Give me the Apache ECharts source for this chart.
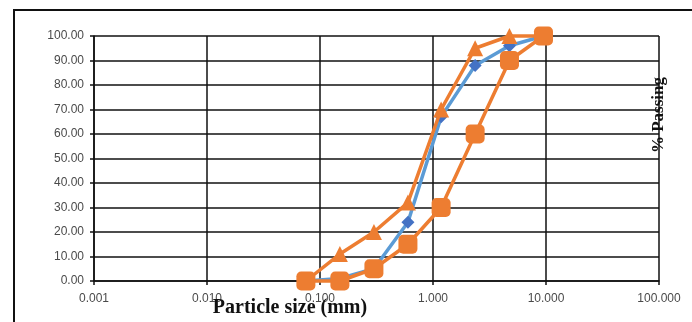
<!DOCTYPE html>
<html>
<head>
<meta charset="utf-8">
<script src="https://cdn.jsdelivr.net/npm/echarts@6/dist/echarts.min.js"></script>
<style>
  html, body { margin: 0; padding: 0; background: #fff; }
  #chart { width: 692px; height: 322px; }
</style>
</head>
<body>
<div id="chart"></div>
<script>
// Sieve sizes (mm) and percent passing for each gradation curve
const sieveSizes = [0.075, 0.15, 0.3, 0.6, 1.18, 2.36, 4.75, 9.5];
const sampleGrading = [0, 1, 5, 24, 67, 88, 96, 100];
const upperLimit = [0, 11, 20, 32, 70, 95, 100, 100];
const lowerLimit = [0, 0, 5, 15, 30, 60, 90, 100];
const xTickFormat = 3;
const yTickFormat = 2;

const pairs = (vals) => sieveSizes.map((s, i) => [s, vals[i]]);

const chart = echarts.init(document.getElementById('chart'));
const gridColor = '#111';
const labelColor = '#4a4a4a';

chart.setOption({
  animation: false,
  backgroundColor: '#fff',
  grid: { left: 94, right: 33, top: 36, bottom: 41 },
  xAxis: {
    type: 'log',
    logBase: 10,
    min: 0.001,
    max: 100,
    axisLine: { show: true, onZero: false, lineStyle: { color: gridColor, width: 1.5 } },
    axisTick: { show: true, inside: false, length: 4, lineStyle: { color: gridColor, width: 1.5 } },
    minorTick: { show: false },
    axisLabel: {
      color: labelColor, fontFamily: 'Liberation Sans, Arial', fontSize: 12, margin: 12,
      formatter: (v) => Number(v).toFixed(xTickFormat)
    },
    splitLine: { show: true, lineStyle: { color: gridColor, width: 1.5 } }
  },
  yAxis: {
    type: 'value',
    min: 0, max: 100, interval: 10,
    axisLine: { show: true, lineStyle: { color: gridColor, width: 1.5 } },
    axisTick: { show: true, length: 4, lineStyle: { color: gridColor, width: 1.5 } },
    axisLabel: {
      color: labelColor, fontFamily: 'Liberation Sans, Arial', fontSize: 12, margin: 10,
      formatter: (v) => Number(v).toFixed(yTickFormat)
    },
    splitLine: { show: true, lineStyle: { color: gridColor, width: 1.5 } }
  },
  series: [
    {
      type: 'line', data: pairs(sampleGrading), clip: false,
      symbol: 'diamond', symbolSize: 13,
      lineStyle: { color: '#5B9BD5', width: 3.5 },
      itemStyle: { color: '#4472C4' },
      z: 2
    },
    {
      type: 'line', data: pairs(upperLimit), clip: false,
      symbol: 'triangle', symbolSize: 16,
      lineStyle: { color: '#ED7D31', width: 3.5 },
      itemStyle: { color: '#ED7D31' },
      z: 3
    },
    {
      type: 'line', data: pairs(lowerLimit), clip: false,
      symbol: 'roundRect', symbolSize: 19,
      lineStyle: { color: '#ED7D31', width: 3.5 },
      itemStyle: { color: '#ED7D31' },
      z: 4
    }
  ],
  graphic: [
    {
      type: 'rect', z: 0,
      shape: { x: 14, y: 10, width: 700, height: 330 },
      style: { fill: 'none', stroke: '#111', lineWidth: 2 }
    },
    {
      type: 'text', z: 10,
      x: 290, y: 308,
      style: {
        text: 'Particle size (mm)', fill: '#111',
        font: 'bold 20px "Liberation Serif", serif',
        align: 'center', verticalAlign: 'middle'
      }
    },
    {
      type: 'text', z: 10,
      x: 659, y: 115, rotation: Math.PI / 2,
      style: {
        text: '% Passing', fill: '#111',
        font: 'bold 17px "Liberation Serif", serif',
        align: 'center', verticalAlign: 'middle'
      }
    }
  ]
});
</script>
</body>
</html>
